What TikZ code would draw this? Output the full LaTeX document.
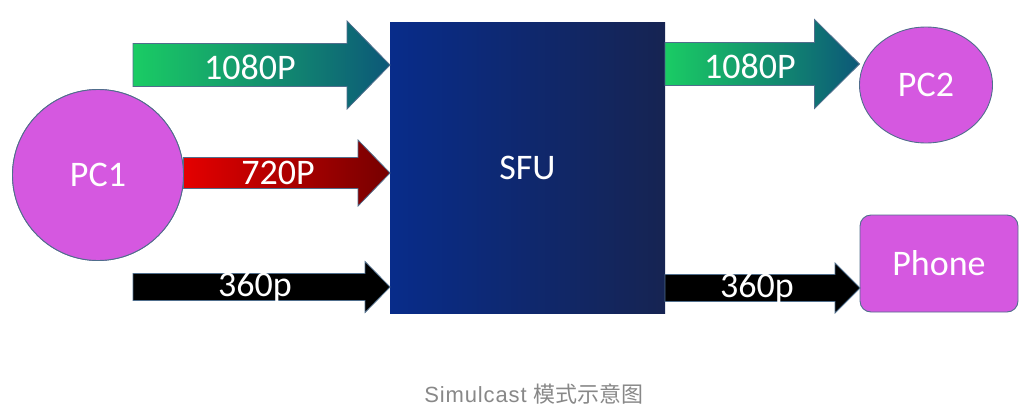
\documentclass[tikz,border=0pt]{standalone}
\usepackage{fontspec}
\setmainfont{Carlito}
\newfontfamily\cjk{Noto Sans CJK SC}
\newfontfamily\capfont{Liberation Sans}
\usetikzlibrary{calc,shapes.geometric}
\definecolor{mag}{RGB}{213,88,224}
\definecolor{edgeblue}{RGB}{80,110,140}
\definecolor{sfuL}{RGB}{8,44,138}
\definecolor{sfuR}{RGB}{22,36,82}
\definecolor{grnL}{RGB}{26,204,100}
\definecolor{grnR}{RGB}{12,88,120}
\definecolor{redL}{RGB}{228,0,0}
\definecolor{redR}{RGB}{118,0,0}
\definecolor{capgray}{RGB}{136,136,136}
\newcommand\blockarrow[6]{\path[#6] let \p1=(#1), \p2=(#2) in
  (\x1,\y1+#3) -- (\x2-#5,\y1+#3) -- (\x2-#5,\y1+#4) -- (\x2,\y1)
  -- (\x2-#5,\y1-#4) -- (\x2-#5,\y1-#3) -- (\x1,\y1-#3) -- cycle;}
\tikzset{
  lbl/.style={text=white,font=\fontsize{36}{36}\selectfont,inner sep=0pt},
  peer/.style={fill=mag,draw=edgeblue,line width=0.9pt,text=white,
    font=\fontsize{36}{36}\selectfont,outer sep=0pt},
  arrowedge/.style={draw=edgeblue,line width=0.8pt},
  greenarrow/.style={arrowedge,left color=grnL,right color=grnR},
  redarrow/.style={arrowedge,left color=redL,right color=redR},
  blackarrow/.style={arrowedge,fill=black}
}
\begin{document}
\begin{tikzpicture}[x=1pt,y=-1pt]
\path[use as bounding box] (0,0) rectangle (1028,418);
% main nodes
\node[rectangle,minimum width=275pt,minimum height=291pt,outer sep=0pt,
  left color=sfuL,right color=sfuR,text=white,
  font=\fontsize{36}{36}\selectfont] (sfu) at (527.5,167.5) {SFU};
\node[peer,circle,minimum size=171pt,inner sep=0pt] (pc1) at (98,175) {PC1};
\node[peer,ellipse,minimum width=133pt,minimum height=116pt,inner sep=0pt] (pc2) at (926,85) {PC2};
\node[peer,rectangle,rounded corners=11pt,minimum width=158pt,minimum height=97pt] (phone) at (939,263.5) {Phone};
% free ends
\coordinate (s1) at (133,65);
\coordinate (s3) at (133,287);
\coordinate (r1) at (665,64);
\coordinate (r3) at (665,288);
% arrows
\blockarrow{s1}{sfu.west |- s1}{21.5pt}{44pt}{43pt}{greenarrow}
\blockarrow{pc1.east |- 0,173}{sfu.west |- 0,173}{15.5pt}{33pt}{32pt}{redarrow}
\blockarrow{s3}{sfu.west |- s3}{13.5pt}{25.5pt}{25pt}{blackarrow}
\blockarrow{r1}{pc2.west |- r1}{21.5pt}{44.5pt}{45pt}{greenarrow}
\blockarrow{r3}{phone.west |- r3}{13.5pt}{25pt}{25pt}{blackarrow}
\node[peer,circle,minimum size=171pt,inner sep=0pt] at (pc1) {PC1};
% labels
\node[lbl] (l1) at (250,67) {1080P};
\node[lbl] (l2) at (278,173) {720P};
\node[lbl] (l3) at (255,287) {360p};
\node[lbl] (l4) at (750,66) {1080P};
\node[lbl] (l5) at (757,288) {360p};
% caption
\node[text=capgray,font=\fontsize{22}{22}\selectfont,inner sep=0pt] (cap) at (534,394) {{\capfont\addfontfeature{LetterSpace=4}Simulcast}\hspace{7pt}{\cjk 模式示意图}};
\end{tikzpicture}
\end{document}
